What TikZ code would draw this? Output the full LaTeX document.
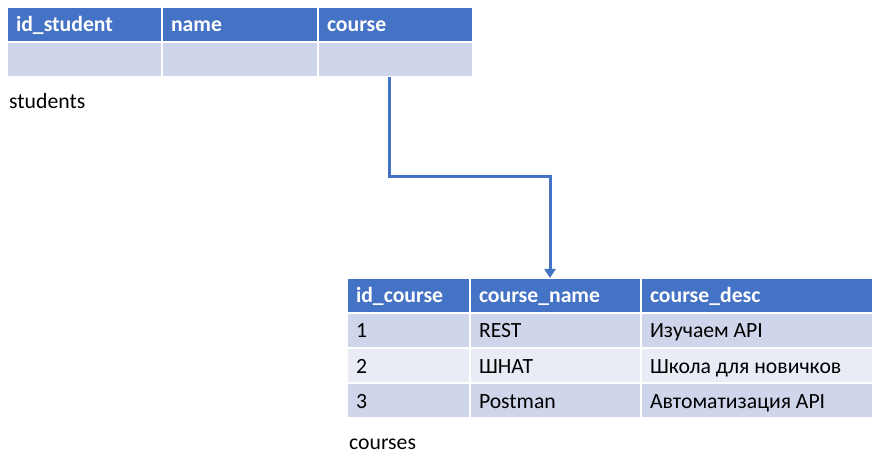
\documentclass[tikz,border=0pt]{standalone}
\usepackage{fontspec}
\setmainfont{Carlito}
\usetikzlibrary{arrows.meta,positioning}
\definecolor{hdrblue}{HTML}{4472C4}
\definecolor{rowdark}{HTML}{CFD5EA}
\definecolor{rowlight}{HTML}{E9EBF5}
\newcommand\celltxt[2]{\makebox[#1][l]{#2}}

\begin{document}
\begin{tikzpicture}[x=1bp,y=-1bp,font=\fontsize{21.7bp}{25bp}\selectfont,
                    link/.style={draw=hdrblue,line width=3bp,-{Triangle[width=11bp,length=9bp]}}]
  \tikzstyle{cell}=[anchor=north west,draw=white,line width=2bp,outer sep=0pt,
                    inner sep=0pt,minimum height=35bp,
                    text height=18bp,text depth=3bp]
  \tikzstyle{hdr}=[cell,fill=hdrblue,text=white,font=\fontsize{21.7bp}{25bp}\selectfont\bfseries]
  \tikzstyle{dark}=[cell,fill=rowdark]
  \tikzstyle{light}=[cell,fill=rowlight]
  \useasboundingbox (0,0) rectangle (873,454);

  % students
  \node[hdr,minimum width=155bp]  (sh1) at (7,7)   {\celltxt{137bp}{id\_student}};
  \node[hdr,minimum width=156bp]  (sh2) at (162,7) {\celltxt{138bp}{name}};
  \node[hdr,minimum width=155bp]  (sh3) at (318,7) {\celltxt{137bp}{course}};
  \node[dark,minimum width=155bp] (sd1) at (7,42)   {};
  \node[dark,minimum width=156bp] (sd2) at (162,42) {};
  \node[dark,minimum width=155bp] (sd3) at (318,42) {};
  \node[anchor=base west,inner sep=0pt] (stlbl) at (9,109) {students};

  % courses
  \node[hdr,minimum width=123bp]   (ch1) at (347,278) {\celltxt{105bp}{id\_course}};
  \node[hdr,minimum width=171bp]   (ch2) at (470,278) {\celltxt{153bp}{course\_name}};
  \node[hdr,minimum width=232bp]   (ch3) at (641,278) {\celltxt{214bp}{course\_desc}};
  \node[dark,minimum width=123bp]  (c11) at (347,313) {\celltxt{105bp}{1}};
  \node[dark,minimum width=171bp]  (c12) at (470,313) {\celltxt{153bp}{REST}};
  \node[dark,minimum width=232bp]  (c13) at (641,313) {\celltxt{214bp}{Изучаем API}};
  \node[light,minimum width=123bp] (c21) at (347,348) {\celltxt{105bp}{2}};
  \node[light,minimum width=171bp] (c22) at (470,348) {\celltxt{153bp}{ШНАТ}};
  \node[light,minimum width=232bp] (c23) at (641,348) {\celltxt{214bp}{Школа для новичков}};
  \node[dark,minimum width=123bp]  (c31) at (347,383) {\celltxt{105bp}{3}};
  \node[dark,minimum width=171bp]  (c32) at (470,383) {\celltxt{153bp}{Postman}};
  \node[dark,minimum width=232bp]  (c33) at (641,383) {\celltxt{214bp}{Автоматизация API}};
  \node[anchor=base west,inner sep=0pt] (crlbl) at (349,449) {courses};

  \draw[link] ([xshift=-6.5bp]sd3.south) -- ++(0,100) -| ([xshift=-5.5bp]ch2.north);
\end{tikzpicture}
\end{document}
